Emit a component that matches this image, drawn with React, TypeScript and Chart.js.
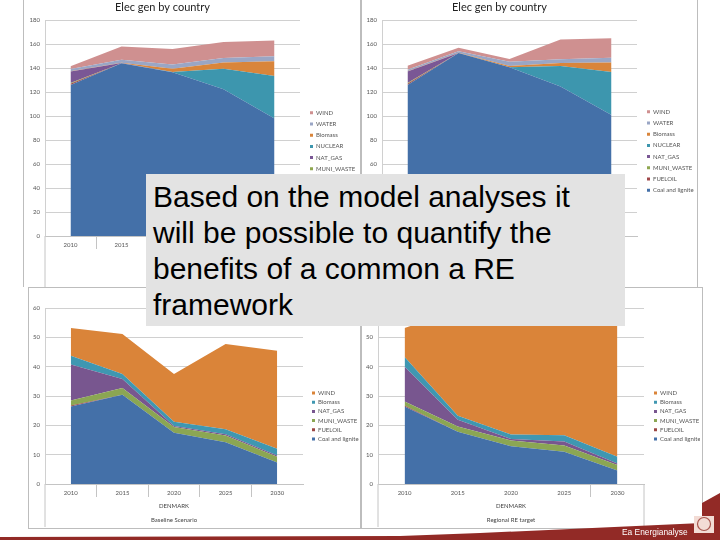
import React, { useEffect, useRef } from "react";
import { Chart, registerables } from "chart.js";

Chart.register(...registerables);

const years = ["2010", "2015", "2020", "2025", "2030"];

// top left, Elec gen by country
const tlCoal = [126, 144, 136.5, 122.5, 98];
const tlFuel = [1, 0, 0, 0, 0];
const tlMuni = [0.6, 0.1, 0, 0, 0];
const tlGas = [9.7, 0.2, 0, 0, 0];
const tlNuclear = [0, 0, 0.3, 17, 35.4];
const tlBiomass = [0.2, 0.2, 2.7, 5.3, 12.3];
const tlWater = [1.8, 2.5, 3.5, 3.7, 4.3];
const tlWind = [2.2, 11, 13, 13.3, 13];

// top right
const trCoal = [126, 152.6, 140.7, 124.8, 101];
const trFuel = [1, 0, 0, 0, 0];
const trMuni = [0.6, 0, 0, 0, 0];
const trGas = [9.7, 0.1, 0, 0, 0];
const trNuclear = [0, 0, 0.1, 17, 35.8];
const trBiomass = [0.2, 0.2, 1, 2.5, 8];
const trWater = [1.2, 1.1, 3.6, 3.1, 3.9];
const trWind = [3.3, 3, 2.2, 16.4, 16.3];

// bottom left, Denmark baseline
const blCoal = [26.4, 30.4, 17.5, 14.2, 7.3];
const blFuel = [0.4, 0, 0, 0, 0];
const blMuni = [1.7, 2.3, 1.9, 2.3, 2];
const blGas = [12.2, 3.1, 0.4, 0.5, 0.4];
const blBiomass = [3, 1.7, 1.4, 1.7, 2.3];
const blWind = [9.5, 13.6, 16.3, 29, 33.4];

// bottom right, Denmark regional RE target (wind top is behind the text box)
const brCoal = [26.4, 17.8, 12.9, 11, 4.6];
const brFuel = [0.4, 0, 0, 0, 0];
const brMuni = [1.3, 1.8, 1.9, 2.1, 1.9];
const brGas = [11.9, 2.3, 0.5, 1.4, 0.5];
const brBiomass = [3.3, 1.4, 1.6, 2.1, 2.3];
const brWind = [9.9, 36, 40, 41, 46];

const tenSeries = ["Coal and lignite", "FUELOIL", "MUNI_WASTE", "NAT_GAS", "NUCLEAR", "Biomass", "WATER", "WIND"];
const tenColors = ["#4470a8", "#a0484a", "#8fa750", "#7a5795", "#3d96ae", "#d9853b", "#9aa6c5", "#cf9090"];
const sixSeries = ["Coal and lignite", "FUELOIL", "MUNI_WASTE", "NAT_GAS", "Biomass", "WIND"];
const sixColors = ["#4470a8", "#9c4744", "#8ba653", "#78568f", "#3f97b1", "#da8439"];

const overlayLines = [
  "Based on the model analyses it",
  "will be possible to quantify the",
  "benefits of a common a RE",
  "framework",
];

const tickFont = { family: "Lato", size: 6 };

type PanelProps = {
  left: number;
  top: number;
  width: number;
  height: number;
  plotLeft: number;
  plotRight: number;
  axisHeight: number;
  padTop: number;
  max: number;
  step: number;
  names: string[];
  colors: string[];
  series: number[][];
  title?: string;
  xTitle?: string[];
  legendX: number;
  legendY: number;
  legendGap: number;
  stubs: string[];
  shownTicks: number[];
};

function Panel(p: PanelProps) {
  const canvasRef = useRef<HTMLCanvasElement>(null);

  useEffect(() => {
    if (!canvasRef.current) return;

    // legend and the long axis lines sit where the original had them
    const placeLegend = {
      id: "placeLegend",
      afterLayout(chart: any) {
        const l = chart.legend;
        l.left = p.legendX - p.left - p.legendGap;
        l.right = l.left + 80;
        l.top = p.legendY - p.top - 60;
        l.bottom = p.legendY - p.top + 60;
      },
      afterDraw(chart: any) {
        const ctx = chart.ctx;
        const x = chart.scales.x;
        ctx.save();
        ctx.strokeStyle = "#c4c4c4";
        ctx.lineWidth = 1;
        p.stubs.forEach((side) => {
          const at = side === "left" ? x.left : x.right;
          ctx.beginPath();
          ctx.moveTo(at, x.top);
          ctx.lineTo(at, p.height);
          ctx.stroke();
        });
        ctx.restore();
      },
    };

    const chart = new Chart(canvasRef.current, {
      type: "line",
      data: {
        labels: years,
        datasets: p.series.map((values, i) => ({
          label: p.names[i],
          data: values,
          fill: i === 0 ? "origin" : "-1",
          backgroundColor: p.colors[i],
          borderColor: "transparent",
          borderWidth: 0,
          pointRadius: 0,
          tension: 0,
        })),
      },
      options: {
        responsive: false,
        animation: false,
        layout: {
          padding: { left: 0, top: p.padTop, right: p.width - (p.plotRight - p.left) - 1, bottom: 0 },
        },
        plugins: {
          title: {
            display: !!p.title,
            text: p.title,
            color: "#222",
            font: { family: "Lato", size: 11, weight: "normal" },
            padding: { top: 1, bottom: 6 },
          },
          legend: {
            position: "right",
            reverse: true,
            maxWidth: 1,
            labels: {
              boxWidth: 3,
              boxHeight: 3,
              padding: p.legendGap,
              color: "#555",
              font: { family: "Lato", size: 6 },
            },
          },
          tooltip: { enabled: false },
        },
        scales: {
          x: {
            offset: true,
            afterFit: (s: any) => {
              s.height = p.axisHeight;
            },
            grid: {
              offset: true,
              drawOnChartArea: false,
              tickLength: 13,
              tickColor: (c: any) => (p.shownTicks.includes(c.index) ? "#c4c4c4" : "transparent"),
            },
            border: { color: "#c4c4c4" },
            ticks: { color: "#555", font: tickFont, padding: -8, maxRotation: 0, autoSkip: false },
            title: {
              display: !!p.xTitle,
              text: p.xTitle,
              color: "#444",
              font: { family: "Lato", size: 6, lineHeight: 14 / 6 },
              padding: 0,
            },
          },
          y: {
            stacked: true,
            min: 0,
            max: p.max,
            afterFit: (s: any) => {
              s.width = p.plotLeft - p.left;
            },
            grid: { color: "#d0d0d0", drawTicks: false },
            border: { color: "#d0d0d0" },
            ticks: { stepSize: p.step, color: "#555", font: tickFont, padding: 5 },
          },
        },
      },
      plugins: [placeLegend],
    } as any);

    return () => {
      chart.destroy();
    };
  }, []);

  return (
    <canvas
      ref={canvasRef}
      width={p.width}
      height={p.height}
      style={{ position: "absolute", left: p.left, top: p.top, width: p.width, height: p.height }}
    />
  );
}

const lineGray = "#bdbdbd";

export default function App() {
  return (
    <div
      style={{
        position: "fixed",
        left: 0,
        top: 0,
        width: 720,
        height: 540,
        background: "#fff",
        overflow: "hidden",
      }}
    >
      <div style={{ position: "absolute", left: 23, top: -2, width: 336, height: 289, borderLeft: `1px solid ${lineGray}`, borderRight: `2px solid ${lineGray}` }} />
      <div style={{ position: "absolute", left: 697, top: -2, width: 0, height: 289, borderLeft: `1px solid ${lineGray}` }} />
      <Panel
        left={24}
        top={0}
        width={335}
        height={287}
        plotLeft={45}
        plotRight={300}
        axisHeight={51}
        padTop={0}
        max={180}
        step={20}
        names={tenSeries}
        colors={tenColors}
        series={[tlCoal, tlFuel, tlMuni, tlGas, tlNuclear, tlBiomass, tlWater, tlWind]}
        title="Elec gen by country"
        legendX={310}
        legendY={152}
        legendGap={5.2}
        stubs={["left"]}
        shownTicks={[1, 2, 3, 4]}
      />
      <Panel
        left={361}
        top={0}
        width={334}
        height={287}
        plotLeft={382}
        plotRight={637}
        axisHeight={51}
        padTop={0}
        max={180}
        step={20}
        names={tenSeries}
        colors={tenColors}
        series={[trCoal, trFuel, trMuni, trGas, trNuclear, trBiomass, trWater, trWind]}
        title="Elec gen by country"
        legendX={647}
        legendY={151}
        legendGap={5.2}
        stubs={["left"]}
        shownTicks={[1, 2, 3, 4]}
      />

      <div style={{ position: "absolute", left: 28, top: 287, width: 331, height: 240, background: "#fff", border: `1px solid ${lineGray}` }} />
      <div style={{ position: "absolute", left: 361, top: 287, width: 340, height: 240, background: "#fff", border: `1px solid ${lineGray}` }} />
      <Panel
        left={29}
        top={288}
        width={330}
        height={239}
        plotLeft={45}
        plotRight={303}
        axisHeight={43}
        padTop={20}
        max={60}
        step={10}
        names={sixSeries}
        colors={sixColors}
        series={[blCoal, blFuel, blMuni, blGas, blBiomass, blWind]}
        xTitle={["DENMARK", "Baseline Scenario"]}
        legendX={312}
        legendY={416}
        legendGap={3.2}
        stubs={["left"]}
        shownTicks={[1, 2, 3, 4]}
      />
      <Panel
        left={362}
        top={288}
        width={338}
        height={239}
        plotLeft={378}
        plotRight={644}
        axisHeight={43}
        padTop={20}
        max={60}
        step={10}
        names={sixSeries}
        colors={sixColors}
        series={[brCoal, brFuel, brMuni, brGas, brBiomass, brWind]}
        xTitle={["DENMARK", "Regional RE target"]}
        legendX={654}
        legendY={416}
        legendGap={3.2}
        stubs={["left", "right"]}
        shownTicks={[4]}
      />

      <div
        style={{
          position: "absolute",
          left: 146,
          top: 174,
          width: 472,
          height: 147,
          paddingLeft: 7,
          paddingTop: 5,
          background: "#e3e3e3",
          color: "#000",
          fontFamily: "'Liberation Sans'",
          fontSize: 30,
          lineHeight: "36px",
          whiteSpace: "nowrap",
          boxSizing: "content-box",
        }}
      >
        {overlayLines.map((line) => (
          <div key={line}>{line}</div>
        ))}
      </div>

      <svg width={720} height={540} style={{ position: "absolute", left: 0, top: 0 }}>
        <polygon points="0,537 400,536 480,533 702,523 702,503 720,493 720,540 0,540" fill="#922a26" />
        <rect x={694} y={516} width={20} height={17} fill="#f3dcd5" />
        <circle cx={704} cy={524} r={6.5} fill="none" stroke="#a8564e" strokeWidth={1.2} />
        <text x={622} y={535} fill="#fff" fontFamily="'Liberation Sans'" fontSize={8.4}>
          Ea Energianalyse
        </text>
      </svg>
    </div>
  );
}
